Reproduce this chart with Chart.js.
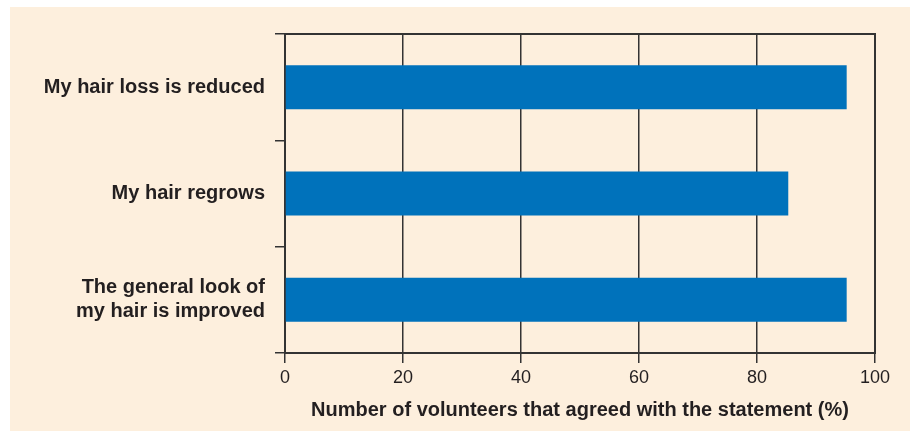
<!DOCTYPE html>
<html lang="en">
<head>
    <meta charset="UTF-8">
    <title>Hair survey chart</title>
    <script src="https://cdn.jsdelivr.net/npm/chart.js"></script>
    <style>
        body {
            margin: 0;
            background-color: #fff;
            width: 912px;
            height: 432px;
            overflow: hidden;
        }

        #box {
            position: absolute;
            left: 10px;
            top: 7px;
            width: 900px;
            height: 424px;
            background-color: #fdefdd;
        }
    </style>
</head>
<body>
    <div id="box">
        <canvas id="hairChart"></canvas>
    </div>

    <script>
        const categories = [
            'My hair loss is reduced',
            'My hair regrows',
            ['The general look of', 'my hair is improved']
        ];
        const agreedPercent = [95.2, 85.3, 95.2];
        const xTicks = [0, 20, 40, 60, 80, 100];

        const lineColor = '#333';
        const textColor = '#231f20';
        const fontFamily = 'Liberation Sans, Arial, sans-serif';

        // top and right edges of the plot box
        const frame = {
            id: 'frame',
            beforeDatasetsDraw(chart) {
                const a = chart.chartArea;
                const c = chart.ctx;
                c.save();
                c.strokeStyle = lineColor;
                c.lineWidth = 2;
                c.strokeRect(a.left, a.top, a.right - a.left, a.bottom - a.top);
                c.restore();
            }
        };

        const ctx = document.getElementById('hairChart').getContext('2d');
        new Chart(ctx, {
            type: 'bar',
            data: {
                labels: categories,
                datasets: [{
                    data: agreedPercent,
                    backgroundColor: '#0072bb',
                    borderWidth: 0,
                    categoryPercentage: 1,
                    barPercentage: 0.414
                }]
            },
            plugins: [frame],
            options: {
                indexAxis: 'y',
                responsive: true,
                maintainAspectRatio: false,
                animation: false,
                layout: { padding: { top: 27, right: 35, left: 0, bottom: 0 } },
                plugins: {
                    legend: { display: false },
                    tooltip: { enabled: false }
                },
                scales: {
                    x: {
                        min: 0,
                        max: 100,
                        afterBuildTicks(scale) {
                            scale.ticks = xTicks.map(v => ({ value: v }));
                        },
                        afterFit(scale) { scale.height = 78; },
                        grid: {
                            color: lineColor,
                            lineWidth: 1.5,
                            tickLength: 10
                        },
                        border: { color: lineColor, width: 2 },
                        ticks: {
                            color: textColor,
                            padding: 4,
                            maxRotation: 0,
                            font: { family: fontFamily, size: 18 }
                        },
                        title: {
                            display: true,
                            text: 'Number of volunteers that agreed with the statement (%)',
                            color: textColor,
                            padding: { top: 0, bottom: 9 },
                            font: { family: fontFamily, size: 20, weight: 'bold' }
                        }
                    },
                    y: {
                        afterFit(scale) {
                            scale.width = 275;
                            scale.paddingTop = 0;
                            scale.paddingBottom = 0;
                        },
                        grid: {
                            offset: true,
                            drawOnChartArea: false,
                            color: lineColor,
                            lineWidth: 1.5,
                            tickLength: 10
                        },
                        border: { color: lineColor, width: 2 },
                        ticks: {
                            color: textColor,
                            padding: 10,
                            font: { family: fontFamily, size: 20, weight: 'bold', lineHeight: 1.2 }
                        }
                    }
                }
            }
        });
    </script>
</body>
</html>
